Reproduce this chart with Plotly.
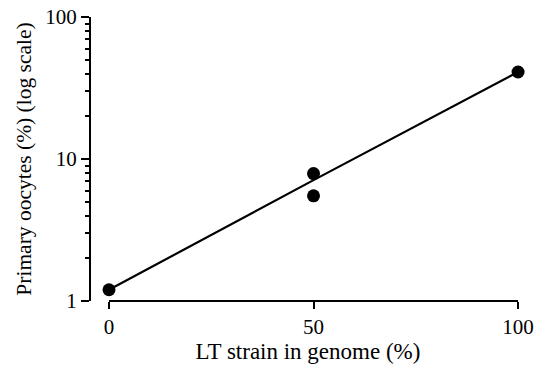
import plotly.graph_objects as go

# Data
strain_pct = [0, 50, 50, 100]
oocytes_pct = [1.2, 7.9, 5.5, 41]
fit_x = [0, 50, 100]
fit_y = [1.2, 7.1, 41]
x_ticks = [0, 50, 100]
y_ticks = [1, 10, 100]
y_minor = [2, 3, 4, 5, 6, 7, 8, 9, 20, 30, 40, 50, 60, 70, 80, 90]

FONT = "Liberation Serif, Times New Roman, serif"

fig = go.Figure()
fig.add_trace(go.Scatter(x=fit_x, y=fit_y, mode="lines",
                         line=dict(color="black", width=2.2),
                         hoverinfo="skip", showlegend=False, cliponaxis=False))
fig.add_trace(go.Scatter(x=strain_pct, y=oocytes_pct, mode="markers",
                         marker=dict(color="black", size=13),
                         showlegend=False, cliponaxis=False))

# x-axis baseline spanning 0..100 only
fig.add_shape(type="line", xref="x", yref="paper", x0=x_ticks[0], x1=x_ticks[-1],
              y0=0, y1=0, line=dict(color="black", width=2))

fig.update_layout(
    width=538, height=367, autosize=False,
    margin=dict(l=91, r=13, t=17, b=66, pad=0, autoexpand=False),
    paper_bgcolor="white", plot_bgcolor="white",
    font=dict(family=FONT, color="black", size=21),
    xaxis=dict(range=[-4.4, 101.7], tickvals=x_ticks, ticks="outside",
               automargin=False,
               ticklen=7, tickwidth=2, tickcolor="black", showline=False,
               showgrid=False, zeroline=False,
               tickfont=dict(size=21, family=FONT),
               title=dict(text="LT strain in genome (%)", standoff=0,
                          font=dict(size=23, family=FONT))),
    yaxis=dict(type="log", range=[0, 2], tickvals=y_ticks,
               automargin=False,
               ticktext=[str(v) for v in y_ticks], ticks="outside",
               ticklen=8, tickwidth=2, tickcolor="black",
               showline=True, linecolor="black", linewidth=2,
               showgrid=False, zeroline=False,
               minor=dict(tickvals=y_minor, ticks="outside", ticklen=4,
                          tickwidth=1.5, tickcolor="black", showgrid=False),
               tickfont=dict(size=21, family=FONT),
               title=dict(text="Primary oocytes (%) (log scale)", standoff=8,
                          font=dict(size=21.5, family=FONT))),
)

fig.write_html("out.html")
